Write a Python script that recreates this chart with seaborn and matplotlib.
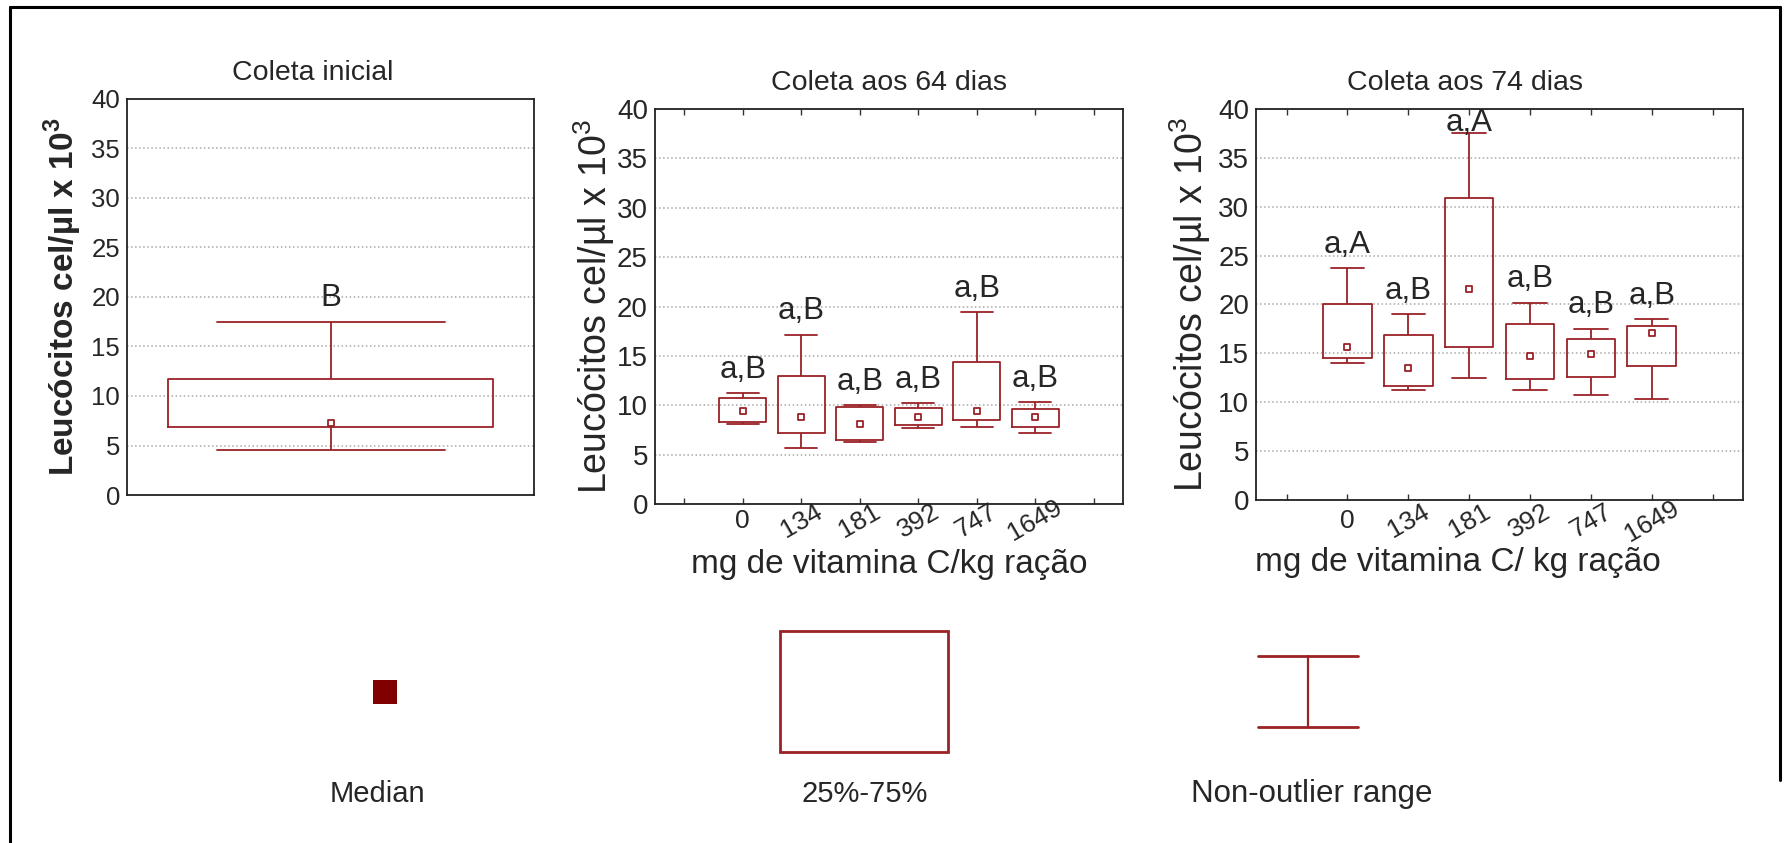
import numpy as np
import pandas as pd
import seaborn as sns
import matplotlib.pyplot as plt
from matplotlib.patches import Rectangle
from matplotlib.lines import Line2D

# valores (x10^3 cel/ul): minimo, q1, mediana, q3, maximo
inicial = [4.5, 6.9, 7.3, 11.7, 17.5]
letra_inicial = 'B'

doses = ['0', '134', '181', '392', '747', '1649']

d64_min = [8.1, 5.7, 6.3, 7.7, 7.8, 7.2]
d64_q1 = [8.3, 7.2, 6.5, 8.0, 8.5, 7.8]
d64_med = [9.4, 8.8, 8.1, 8.8, 9.4, 8.8]
d64_q3 = [10.7, 13.0, 9.8, 9.7, 14.4, 9.6]
d64_max = [11.2, 17.1, 10.0, 10.2, 19.4, 10.3]
letras_64 = ['a,B', 'a,B', 'a,B', 'a,B', 'a,B', 'a,B']

d74_min = [14.0, 11.3, 12.5, 11.3, 10.7, 10.3]
d74_q1 = [14.5, 11.7, 15.7, 12.4, 12.6, 13.7]
d74_med = [15.7, 13.5, 21.6, 14.7, 14.9, 17.1]
d74_q3 = [20.0, 16.9, 30.9, 18.0, 16.5, 17.8]
d74_max = [23.7, 19.0, 37.5, 20.2, 17.5, 18.5]
letras_74 = ['a,A', 'a,B', 'a,A', 'a,B', 'a,B', 'a,B']

vermelho = '#9b2226'
vermelho_esc = '#800000'

sns.set_style('white')
plt.rcParams['font.family'] = ['Liberation Sans', 'DejaVu Sans']
plt.rcParams['mathtext.fontset'] = 'custom'
plt.rcParams['mathtext.rm'] = 'Liberation Sans'
plt.rcParams['mathtext.bf'] = 'Liberation Sans:bold'
plt.rcParams['axes.edgecolor'] = '#222222'
plt.rcParams['axes.linewidth'] = 1.3


def tabela(cats, mins, q1s, meds, q3s, maxs):
    # cinco valores por grupo -> boxplot reproduz exatamente min/q1/med/q3/max
    linhas = []
    for i, c in enumerate(cats):
        for v in (mins[i], q1s[i], meds[i], q3s[i], maxs[i]):
            linhas.append({'dose': c, 'valor': v})
    return pd.DataFrame(linhas)


def letra(ax, x, topo, txt):
    # letra acima do bigode, sem passar do topo do eixo
    ax.text(x, min(topo + 2.4, 38.6), txt, ha='center', va='center', fontsize=22.5)


def caixas(ax, df, cats, meds, maxs, letras):
    sns.boxplot(data=df, x='dose', y='valor', order=cats, whis=np.inf,
                fill=False, color=vermelho, width=0.8, linewidth=1.3,
                medianprops={'linewidth': 0}, capwidths=0.55, ax=ax)
    sns.stripplot(x=cats, y=meds, order=cats, jitter=False, marker='s',
                  size=5, color='white', edgecolor=vermelho, linewidth=1.3,
                  ax=ax, zorder=4)
    for i, txt in enumerate(letras):
        letra(ax, i, maxs[i], txt)


def eixo_y(ax, size):
    ax.set_ylim(0, 40)
    ax.set_yticks(range(0, 41, 5))
    ax.tick_params(axis='y', length=0, pad=5, labelsize=size)
    ax.yaxis.grid(True, linestyle=':', color='#a8a8a8', linewidth=1.1)
    ax.xaxis.grid(False)
    for s in ax.spines.values():
        s.set_visible(True)


def eixo_x(ax, pad):
    ax.set_xlim(-1.5, 6.5)
    ax.set_xticks(range(-1, 7))
    ax.set_xticklabels([''] + doses + [''], fontsize=19)
    for i, lab in enumerate(ax.get_xticklabels()):
        lab.set_rotation(0 if i == 1 else 30)
        lab.set_ha('center')
        lab.set_va('center')
    ax.tick_params(axis='x', direction='in', top=True, bottom=True,
                   length=4, width=1, pad=pad, color='#333333')


fig = plt.figure(figsize=(17.87, 8.43), dpi=100)

# moldura e legenda em pixels
fundo = fig.add_axes([0, 0, 1, 1], zorder=-1)
fundo.set_xlim(0, 1787)
fundo.set_ylim(843, 0)
fundo.axis('off')
fundo.add_line(Line2D([10, 10], [7, 843], color='black', lw=2.2))
fundo.add_line(Line2D([10, 1780], [7, 7], color='black', lw=2.2))
fundo.add_line(Line2D([1780, 1780], [7, 780], color='black', lw=2.2))
fundo.add_patch(Rectangle((373, 680), 24, 24, facecolor=vermelho_esc, edgecolor='none'))
fundo.add_patch(Rectangle((780, 631), 168, 121, fill=False, edgecolor=vermelho, lw=2))
fundo.add_line(Line2D([1308, 1308], [656, 727], color=vermelho, lw=1.6))
fundo.add_line(Line2D([1258, 1358], [656, 656], color=vermelho, lw=2))
fundo.add_line(Line2D([1258, 1358], [727, 727], color=vermelho, lw=2))
fundo.text(377, 794, 'Median', ha='center', va='center', fontsize=21)
fundo.text(865, 794, '25%-75%', ha='center', va='center', fontsize=21)
fundo.text(1312, 794, 'Non-outlier range', ha='center', va='center', fontsize=22.5)

# painel 1 - coleta inicial
ax1 = fig.add_axes([0.0711, 0.4128, 0.2278, 0.4698])
sns.boxplot(y=inicial, whis=np.inf, fill=False, color=vermelho, width=0.8,
            linewidth=1.3, medianprops={'linewidth': 0}, capwidths=0.56, ax=ax1)
sns.stripplot(y=[inicial[2]], jitter=False, marker='s', size=5, color='white',
              edgecolor=vermelho, linewidth=1.3, ax=ax1, zorder=4)
letra(ax1, 0, inicial[4], letra_inicial)
ax1.set_xlim(-0.5, 0.5)
ax1.set_xticks([])
eixo_y(ax1, 18.5)
ax1.set_title('Coleta inicial', fontsize=20.5, pad=14, x=0.455)
ax1.set_ylabel('Leucócitos cel/µl x 10$^\\mathbf{3}$', fontsize=24, fontweight='bold')
ax1.yaxis.set_label_coords(-0.105, 0.5)
ax1.set_xlabel('')

# painel 2 - 64 dias
ax2 = fig.add_axes([0.3665, 0.4021, 0.2619, 0.4686])
df64 = tabela(doses, d64_min, d64_q1, d64_med, d64_q3, d64_max)
caixas(ax2, df64, doses, d64_med, d64_max, letras_64)
eixo_y(ax2, 20)
eixo_x(ax2, 12)
ax2.set_title('Coleta aos 64 dias', fontsize=20.5, pad=14)
ax2.set_ylabel('Leucócitos cel/µl x 10$^3$', fontsize=27)
ax2.yaxis.set_label_coords(-0.082, 0.5)
ax2.set_xlabel('mg de vitamina C/kg ração', fontsize=24)
ax2.xaxis.set_label_coords(0.5, -0.115)

# painel 3 - 74 dias
ax3 = fig.add_axes([0.7029, 0.4069, 0.2725, 0.4638])
df74 = tabela(doses, d74_min, d74_q1, d74_med, d74_q3, d74_max)
caixas(ax3, df74, doses, d74_med, d74_max, letras_74)
eixo_y(ax3, 20)
eixo_x(ax3, 15)
ax3.set_title('Coleta aos 74 dias', fontsize=20.5, pad=14, x=0.43)
ax3.set_ylabel('Leucócitos cel/µl x 10$^3$', fontsize=27)
ax3.yaxis.set_label_coords(-0.088, 0.5)
ax3.set_xlabel('mg de vitamina C/ kg ração', fontsize=24)
ax3.xaxis.set_label_coords(0.414, -0.12)

fig.savefig('out.png', dpi=100, facecolor='white')
